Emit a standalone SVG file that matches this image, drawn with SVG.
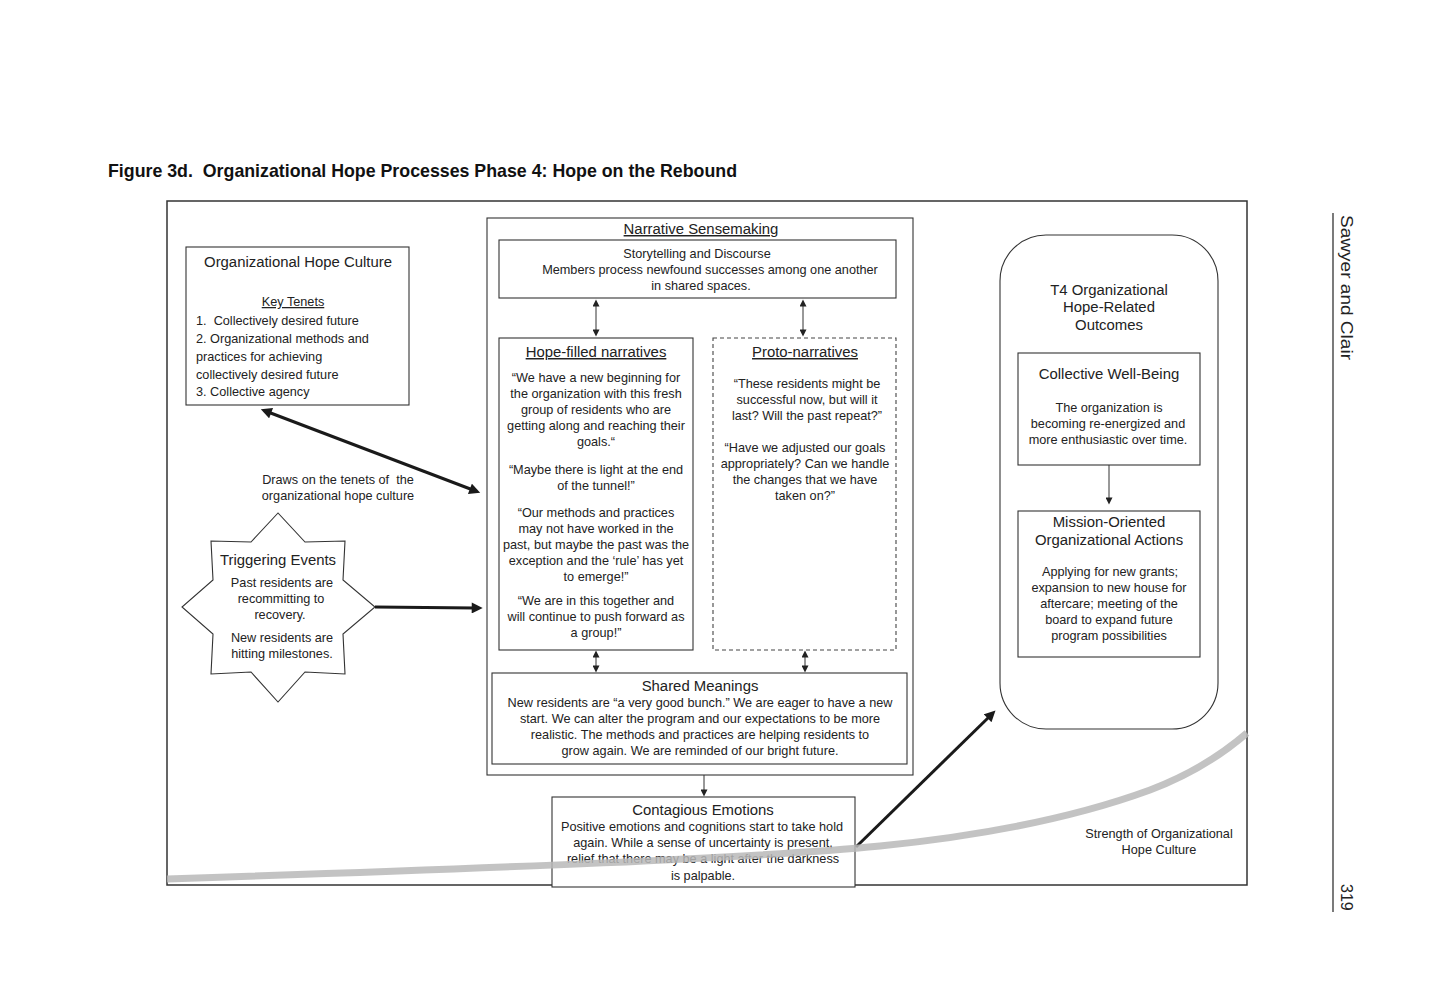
<svg xmlns="http://www.w3.org/2000/svg" width="1440" height="1008" viewBox="0 0 1440 1008">
<style>
text{font-family:"Liberation Sans",Arial,sans-serif;fill:#222;}
.b{font-size:12.7px;}
.h{font-size:14.9px;}
.c{text-anchor:middle;}
.u{text-decoration:underline;}
.box{fill:#fff;stroke:#333;stroke-width:1.1;}
.dash{fill:#fff;stroke:#444;stroke-width:1.1;stroke-dasharray:4 3;}
.thick{stroke:#1a1a1a;stroke-width:3;fill:none;}
.thin{stroke:#333;stroke-width:1;fill:none;}
</style>
<defs>
<marker id="big" viewBox="0 0 10 10" refX="3" refY="5" markerWidth="13" markerHeight="11" markerUnits="userSpaceOnUse" orient="auto-start-reverse"><path d="M0,0 L10,5 L0,10 z" fill="#1a1a1a"/></marker>
<marker id="sm" viewBox="0 0 10 10" refX="2" refY="5" markerWidth="8" markerHeight="7" markerUnits="userSpaceOnUse" orient="auto-start-reverse"><path d="M0,0 L10,5 L0,10 z" fill="#222"/></marker>
</defs>
<rect width="1440" height="1008" fill="#fff"/>

<text x="108" y="177" xml:space="preserve" style="font-size:18.5px;font-weight:bold;fill:#111" textLength="629" lengthAdjust="spacingAndGlyphs">Figure 3d.  Organizational Hope Processes Phase 4: Hope on the Rebound</text>

<rect x="167" y="201" width="1080" height="684" fill="none" stroke="#333" stroke-width="1.5"/>

<g id="running-head">
<line x1="1333" y1="213" x2="1333" y2="912" stroke="#222" stroke-width="1.2"/>
<text transform="translate(1341,215) rotate(90)" style="font-size:16px" textLength="145" lengthAdjust="spacingAndGlyphs">Sawyer and Clair</text>
<text transform="translate(1341,884) rotate(90)" style="font-size:16px">319</text>
</g>

<g id="culture">
<rect class="box" x="186" y="247" width="223" height="158"/>
<text class="h c" x="298" y="267">Organizational Hope Culture</text>
<text class="b c u" x="293" y="306">Key Tenets</text>
<text class="b" x="196" y="325" xml:space="preserve">1.  Collectively desired future</text>
<text class="b" x="196" y="343">2. Organizational methods and</text>
<text class="b" x="196" y="361">practices for achieving</text>
<text class="b" x="196" y="379">collectively desired future</text>
<text class="b" x="196" y="396">3. Collective agency</text>
</g>

<g id="draws-label">
<text class="b c" x="338" y="484" xml:space="preserve">Draws on the tenets of  the</text>
<text class="b c" x="338" y="500">organizational hope culture</text>
</g>

<g id="triggering">
<polygon class="box" points="278,513 251,542 211,541 213,580 182,607 213,634 211,674 251,672 278,702 305,672 345,674 343,634 375,607 343,580 345,541 305,542"/>
<text class="h c" x="278" y="565">Triggering Events</text>
<text class="b c" x="282" y="587">Past residents are</text>
<text class="b c" x="281" y="603">recommitting to</text>
<text class="b c" x="280" y="619">recovery.</text>
<text class="b c" x="282" y="642">New residents are</text>
<text class="b c" x="282" y="658">hitting milestones.</text>
</g>

<g id="narrative-sensemaking">
<rect class="box" x="487" y="218" width="426" height="557" stroke-width="1.5"/>
<text class="h c u" x="701" y="234">Narrative Sensemaking</text>
</g>

<g id="storytelling">
<rect class="box" x="499" y="240" width="397" height="58"/>
<text class="b c" x="697" y="258">Storytelling and Discourse</text>
<text class="b c" x="710" y="274">Members process newfound successes among one another</text>
<text class="b c" x="701" y="290">in shared spaces.</text>
</g>

<g id="hope-filled">
<rect class="box" x="499" y="338" width="194" height="312"/>
<text class="h c u" x="596" y="357">Hope-filled narratives</text>
<text class="b c" x="596" y="382">“We have a new beginning for</text>
<text class="b c" x="596" y="398">the organization with this fresh</text>
<text class="b c" x="596" y="414">group of residents who are</text>
<text class="b c" x="596" y="430">getting along and reaching their</text>
<text class="b c" x="596" y="446">goals.“</text>
<text class="b c" x="596" y="474">“Maybe there is light at the end</text>
<text class="b c" x="596" y="490">of the tunnel!”</text>
<text class="b c" x="596" y="517">“Our methods and practices</text>
<text class="b c" x="596" y="533">may not have worked in the</text>
<text class="b c" x="596" y="549">past, but maybe the past was the</text>
<text class="b c" x="596" y="565">exception and the ‘rule’ has yet</text>
<text class="b c" x="596" y="581">to emerge!”</text>
<text class="b c" x="596" y="605">“We are in this together and</text>
<text class="b c" x="596" y="621">will continue to push forward as</text>
<text class="b c" x="596" y="637">a group!”</text>
</g>

<g id="proto">
<rect class="dash" x="713" y="338" width="183" height="312"/>
<text class="h c u" x="805" y="357">Proto-narratives</text>
<text class="b c" x="807" y="388">“These residents might be</text>
<text class="b c" x="807" y="404">successful now, but will it</text>
<text class="b c" x="807" y="420">last? Will the past repeat?”</text>
<text class="b c" x="805" y="452">“Have we adjusted our goals</text>
<text class="b c" x="805" y="468">appropriately? Can we handle</text>
<text class="b c" x="805" y="484">the changes that we have</text>
<text class="b c" x="805" y="500">taken on?”</text>
</g>

<g id="shared-meanings">
<rect class="box" x="492" y="673" width="415" height="91"/>
<text class="h c" x="700" y="691">Shared Meanings</text>
<text class="b c" x="700" y="707">New residents are “a very good bunch.” We are eager to have a new</text>
<text class="b c" x="700" y="723">start. We can alter the program and our expectations to be more</text>
<text class="b c" x="700" y="739">realistic. The methods and practices are helping residents to</text>
<text class="b c" x="700" y="755">grow again. We are reminded of our bright future.</text>
</g>

<g id="contagious">
<rect class="box" x="552" y="797" width="303" height="90"/>
<text class="h c" x="703" y="815">Contagious Emotions</text>
<text class="b c" x="702" y="831">Positive emotions and cognitions start to take hold</text>
<text class="b c" x="703" y="847">again. While a sense of uncertainty is present,</text>
<text class="b c" x="703" y="863">relief that there may be a light after the darkness</text>
<text class="b c" x="703" y="880">is palpable.</text>
</g>

<g id="outcomes">
<rect class="box" x="1000" y="235" width="218" height="494" rx="46" ry="46"/>
<text class="h c" x="1109" y="295">T4 Organizational</text>
<text class="h c" x="1109" y="312">Hope-Related</text>
<text class="h c" x="1109" y="330">Outcomes</text>
</g>

<g id="well-being">
<rect class="box" x="1018" y="353" width="182" height="112"/>
<text class="h c" x="1109" y="379">Collective Well-Being</text>
<text class="b c" x="1109" y="412">The organization is</text>
<text class="b c" x="1108" y="428">becoming re-energized and</text>
<text class="b c" x="1108" y="444">more enthusiastic over time.</text>
</g>

<g id="mission">
<rect class="box" x="1018" y="511" width="182" height="146"/>
<text class="h c" x="1109" y="527">Mission-Oriented</text>
<text class="h c" x="1109" y="545">Organizational Actions</text>
<text class="b c" x="1110" y="576">Applying for new grants;</text>
<text class="b c" x="1109" y="592">expansion to new house for</text>
<text class="b c" x="1109" y="608">aftercare; meeting of the</text>
<text class="b c" x="1109" y="624">board to expand future</text>
<text class="b c" x="1109" y="640">program possibilities</text>
</g>

<g id="strength-label">
<text class="b c" x="1159" y="838">Strength of Organizational</text>
<text class="b c" x="1159" y="854">Hope Culture</text>
</g>

<g id="connectors">
<line class="thick" x1="268" y1="412" x2="473" y2="490" marker-start="url(#big)" marker-end="url(#big)"/>
<line class="thick" x1="375" y1="607" x2="475" y2="608" marker-end="url(#big)"/>
<line class="thin" x1="596" y1="305" x2="596" y2="331" marker-start="url(#sm)" marker-end="url(#sm)"/>
<line class="thin" x1="803" y1="305" x2="803" y2="331" marker-start="url(#sm)" marker-end="url(#sm)"/>
<line class="thin" x1="596" y1="656" x2="596" y2="667" marker-start="url(#sm)" marker-end="url(#sm)"/>
<line class="thin" x1="805" y1="656" x2="805" y2="667" marker-start="url(#sm)" marker-end="url(#sm)"/>
<line class="thin" x1="704" y1="775" x2="704" y2="791" marker-end="url(#sm)"/>
<line class="thin" x1="1109" y1="465" x2="1109" y2="499" marker-end="url(#sm)"/>
<line class="thick" x1="856" y1="847" x2="990" y2="716" stroke-width="2.5" marker-end="url(#big)"/>
</g>

<path id="strength-curve" d="M167,879 C500,868 760,858 880,846 C1000,834 1090,812 1150,790 C1195,773 1225,752 1247,733" fill="none" stroke="#b8b8b8" stroke-width="7" opacity="0.85"/>
</svg>
